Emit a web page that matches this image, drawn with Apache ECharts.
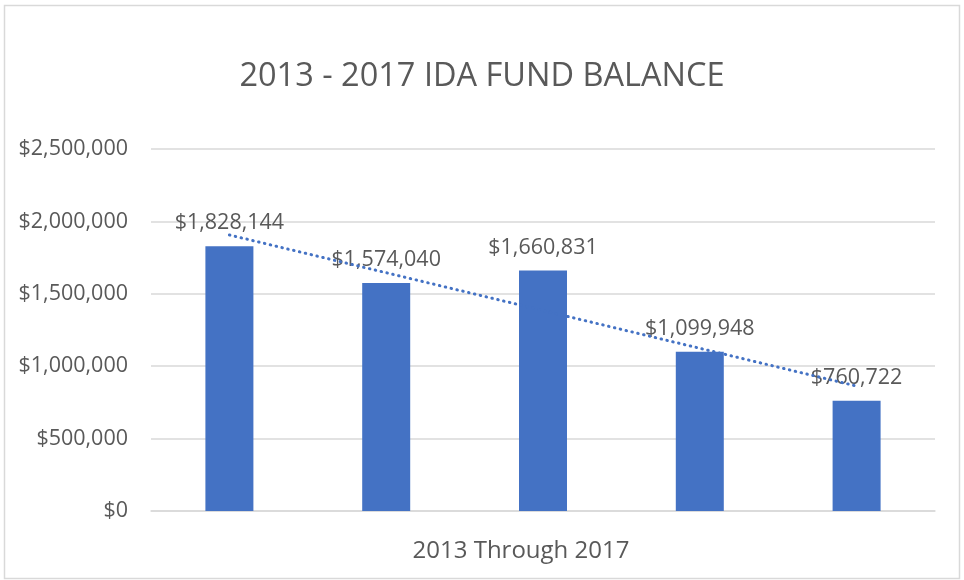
<!DOCTYPE html>
<html>
<head>
<meta charset="utf-8">
<script src="https://cdn.jsdelivr.net/npm/echarts@6/dist/echarts.min.js"></script>
<style>
  html, body { margin: 0; padding: 0; background: #fff; }
  #chart { width: 964px; height: 580px; }
</style>
</head>
<body>
<div id="chart"></div>
<script>
// years on the category axis (labels hidden, Excel shows only the axis title)
const years = ["2013", "2014", "2015", "2016", "2017"];
// fund balance per year
const balances = [1828144, 1574040, 1660831, 1099948, 760722];
// y axis ticks
const yTicks = [0, 500000, 1000000, 1500000, 2000000, 2500000];

const fontColor = "#595959";
const barColor = "#4472C4";
const fontFamily = "'Open Sans', sans-serif";

// linear trendline (least squares), like Excel's "Linear" trendline
function linearTrend(vals) {
  const n = vals.length;
  let sx = 0, sy = 0, sxy = 0, sxx = 0;
  vals.forEach((v, i) => {
    const x = i + 1;
    sx += x; sy += v; sxy += x * v; sxx += x * x;
  });
  const slope = (n * sxy - sx * sy) / (n * sxx - sx * sx);
  const icpt = (sy - slope * sx) / n;
  return vals.map((v, i) => icpt + slope * (i + 1));
}

const money = (v) => "$" + Number(v).toLocaleString("en-US");

const myChart = echarts.init(document.getElementById("chart"));
const option = {
  animation: false,
  textStyle: { fontFamily: fontFamily },
  title: {
    text: "2013 - 2017 IDA FUND BALANCE",
    left: "center",
    top: 55,
    textStyle: {
      color: fontColor,
      fontFamily: fontFamily,
      fontSize: 32.5,
      fontWeight: "normal",
    },
  },
  graphic: [
    {
      type: "rect",
      left: 2,
      top: 3,
      shape: { width: 955, height: 573 },
      style: { fill: "none", stroke: "#d9d9d9", lineWidth: 1.5 },
      silent: true,
    },
  ],
  grid: {
    left: 151,
    right: 29,
    top: 149,
    bottom: 69,
  },
  xAxis: {
    type: "category",
    data: years,
    name: "2013 Through 2017",
    nameLocation: "middle",
    nameGap: 28,
    nameTextStyle: {
      color: fontColor,
      fontSize: 24,
      fontFamily: fontFamily,
      padding: [0, 44, 0, 0],
    },
    axisLabel: { show: false },
    axisTick: { show: false },
    axisLine: { lineStyle: { color: "#d9d9d9", width: 1.5 } },
  },
  yAxis: {
    type: "value",
    min: yTicks[0],
    max: yTicks[yTicks.length - 1],
    interval: yTicks[1] - yTicks[0],
    axisLabel: {
      color: fontColor,
      fontSize: 21.5,
      fontFamily: fontFamily,
      margin: 23,
      formatter: money,
    },
    axisLine: { show: false },
    axisTick: { show: false },
    splitLine: { show: true, lineStyle: { color: "#d9d9d9", width: 1.5 } },
  },
  series: [
    {
      name: "Balance",
      type: "bar",
      data: balances,
      barWidth: 48,
      itemStyle: { color: barColor },
      label: {
        show: true,
        position: "top",
        distance: 12,
        color: fontColor,
        fontSize: 21.5,
        fontFamily: fontFamily,
        formatter: (p) => money(p.value),
      },
      z: 2,
    },
    {
      name: "Linear (Balance)",
      type: "line",
      data: linearTrend(balances),
      showSymbol: false,
      symbol: "none",
      lineStyle: {
        color: barColor,
        width: 3,
        type: [0.5, 5.5],
        cap: "round",
      },
      z: 5,
    },
  ],
};
myChart.setOption(option);
</script>
</body>
</html>
